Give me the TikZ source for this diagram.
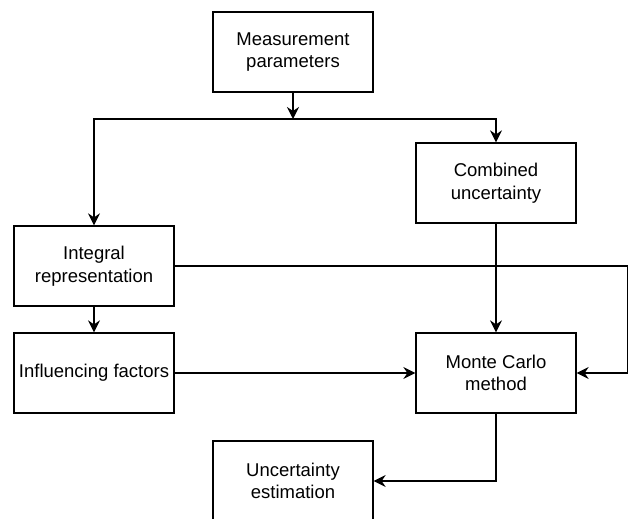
\documentclass[tikz,border=0pt]{standalone}
\usepackage{fontspec}
\setmainfont{Liberation Sans}
\usetikzlibrary{arrows.meta}
\begin{document}
\begin{tikzpicture}[x=1pt,y=-1pt,
  blk/.style={draw, line width=1.3pt, minimum width=160pt, minimum height=80pt, align=center, inner sep=0pt, font=\fontsize{18.5}{22.5}\selectfont},
  conn/.style={line width=1.3pt, -{Stealth[length=12pt,width=12pt,inset=4pt]}},
  plain/.style={line width=1.3pt}]
\useasboundingbox (0,0) rectangle (629,519);
\clip (0,0) rectangle (629,519);
\node[blk] (mp) at (293,52) {Measurement\\parameters};
\node[blk] (cu) at (496,183) {Combined\\uncertainty};
\node[blk] (ir) at (94,266) {Integral\\representation};
\node[blk] (inf) at (94,373) {Influencing factors};
\node[blk] (mc) at (496,373) {Monte Carlo\\method};
\node[blk] (ue) at (293,481) {Uncertainty\\estimation};
\coordinate (j) at (293,119);
\coordinate (rt) at (627.5,266);
\draw[conn] (mp.south) -- (j);
\draw[conn] (j) -- (j -| ir) -- (ir.north);
\draw[conn] (j) -| (cu.north);
\draw[conn] (ir.south) -- (inf.north);
\draw[conn] (inf.east) -- (mc.west);
\draw[conn] (cu.south) -- (mc.north);
\draw[conn] (ir.east) -- (rt) |- (mc.east);
\draw[conn] (mc.south) |- (ue.east);
\end{tikzpicture}
\end{document}
